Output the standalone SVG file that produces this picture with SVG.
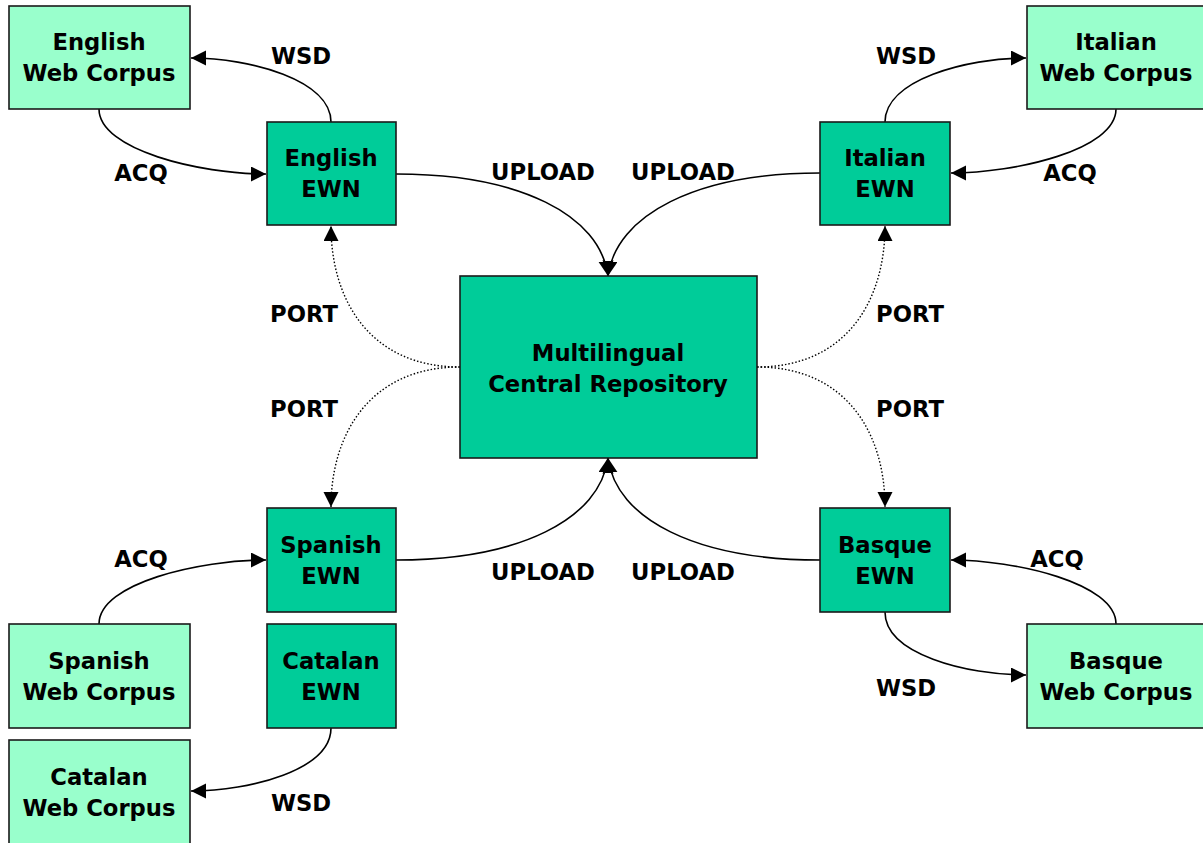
<svg xmlns="http://www.w3.org/2000/svg" width="1203" height="843" viewBox="0 0 1203 843">
<defs>
<marker id="ah" markerUnits="userSpaceOnUse" markerWidth="16" markerHeight="16" refX="15" refY="7.5" orient="auto">
<path d="M0,0 L15,7.5 L0,15 z" fill="#000"/>
</marker>
<style>
.ewn{fill:#00CC99;stroke:#1a1a1a;stroke-width:1.6}
.web{fill:#99FFCC;stroke:#1a1a1a;stroke-width:1.6}
text{font-family:"DejaVu Sans",Verdana,sans-serif;font-weight:bold;font-size:22.7px;fill:#000;text-anchor:middle}
.c{fill:none;stroke:#000;stroke-width:1.6;marker-end:url(#ah)}
.d{fill:none;stroke:#000;stroke-width:1.4;stroke-dasharray:1.5,2;marker-end:url(#ah)}
</style>
</defs>
<rect width="1203" height="843" fill="#fff"/>
<g id="connectors">
<path class="c" d="M331,122 C331,80 250,58 191,58"/>
<path class="c" d="M99,109 C99,150 200,174 266,174"/>
<path class="c" d="M885,122 C885,80 966,58 1026,58"/>
<path class="c" d="M1116,109 C1116,150 1015,173 951,173"/>
<path class="c" d="M99,624 C99,583 200,560 266,560"/>
<path class="c" d="M331,728 C331,770 250,791 191,791"/>
<path class="c" d="M1116,624 C1116,583 1015,560 951,560"/>
<path class="c" d="M885,612 C885,654 966,675 1026,675"/>
<path class="c" d="M396,174 C520,174 600,215 608,276"/>
<path class="c" d="M820,173 C696,173 616,215 608,276"/>
<path class="c" d="M396,560 C520,560 600,519 608,458"/>
<path class="c" d="M820,560 C696,560 616,519 608,458"/>
<path class="d" d="M460,367 C370,367 331,300 331,226"/>
<path class="d" d="M460,367 C370,367 331,434 331,507"/>
<path class="d" d="M757,367 C847,367 885,300 885,226"/>
<path class="d" d="M757,367 C847,367 885,434 885,507"/>
</g>
<g id="labels">
<text x="301" y="64">WSD</text>
<text x="141" y="181">ACQ</text>
<text x="906" y="64">WSD</text>
<text x="1070" y="181">ACQ</text>
<text x="543" y="180">UPLOAD</text>
<text x="683" y="180">UPLOAD</text>
<text x="304" y="322">PORT</text>
<text x="304" y="417">PORT</text>
<text x="910" y="322">PORT</text>
<text x="910" y="417">PORT</text>
<text x="543" y="580">UPLOAD</text>
<text x="683" y="580">UPLOAD</text>
<text x="141" y="567">ACQ</text>
<text x="1057" y="567">ACQ</text>
<text x="906" y="696">WSD</text>
<text x="301" y="811">WSD</text>
</g>
<g id="english-web"><rect class="web" x="9" y="6" width="181" height="103"/><text x="99" y="50">English</text><text x="99" y="81">Web Corpus</text></g>
<g id="english-ewn"><rect class="ewn" x="267" y="122" width="129" height="103"/><text x="331" y="166">English</text><text x="331" y="197">EWN</text></g>
<g id="italian-web"><rect class="web" x="1027" y="6" width="181" height="103"/><text x="1116" y="50">Italian</text><text x="1116" y="81">Web Corpus</text></g>
<g id="italian-ewn"><rect class="ewn" x="820" y="122" width="130" height="103"/><text x="885" y="166">Italian</text><text x="885" y="197">EWN</text></g>
<g id="mcr"><rect class="ewn" x="460" y="276" width="297" height="182"/><text x="608" y="361">Multilingual</text><text x="608" y="392">Central Repository</text></g>
<g id="spanish-ewn"><rect class="ewn" x="267" y="508" width="129" height="104"/><text x="331" y="553">Spanish</text><text x="331" y="584">EWN</text></g>
<g id="catalan-ewn"><rect class="ewn" x="267" y="624" width="129" height="104"/><text x="331" y="669">Catalan</text><text x="331" y="700">EWN</text></g>
<g id="spanish-web"><rect class="web" x="9" y="624" width="181" height="104"/><text x="99" y="669">Spanish</text><text x="99" y="700">Web Corpus</text></g>
<g id="catalan-web"><rect class="web" x="9" y="740" width="181" height="110"/><text x="99" y="785">Catalan</text><text x="99" y="816">Web Corpus</text></g>
<g id="basque-ewn"><rect class="ewn" x="820" y="508" width="130" height="104"/><text x="885" y="553">Basque</text><text x="885" y="584">EWN</text></g>
<g id="basque-web"><rect class="web" x="1027" y="624" width="181" height="104"/><text x="1116" y="669">Basque</text><text x="1116" y="700">Web Corpus</text></g>
</svg>
